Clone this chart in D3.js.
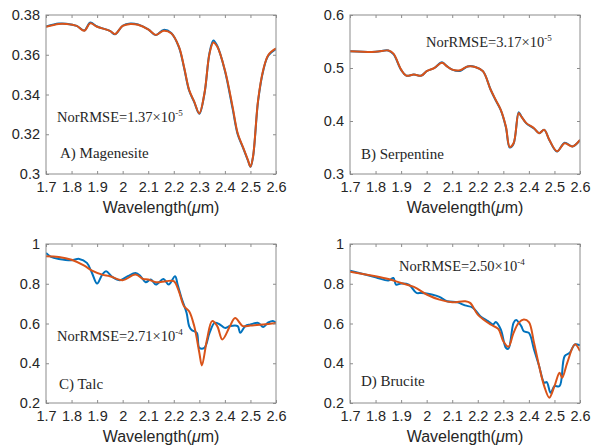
<!DOCTYPE html>
<html><head><meta charset="utf-8">
<script src="https://cdn.jsdelivr.net/npm/d3@7"></script>
<style>body{margin:0;background:#fff}svg{display:block}</style>
</head><body>
<svg id="c" width="592" height="446"></svg>
<script>
// ---------- data ----------
const xTicks = [1.7,1.8,1.9,2.0,2.1,2.2,2.3,2.4,2.5,2.6];

// A) Magenesite
const xA_meas = [1.70,1.75,1.78,1.82,1.85,1.873,1.90,1.95,1.97,2.00,2.03,2.06,2.10,2.13,2.16,2.19,2.22,2.24,2.26,2.28,2.30,2.32,2.34,2.355,2.37,2.40,2.43,2.45,2.47,2.49,2.50,2.51,2.53,2.55,2.57,2.60];
const yA_meas = [0.3742,0.3757,0.3756,0.3745,0.3722,0.3762,0.3742,0.3720,0.3703,0.3746,0.3757,0.3752,0.3728,0.3699,0.3725,0.3709,0.3638,0.3536,0.3420,0.3362,0.3303,0.3404,0.3610,0.3672,0.3645,0.3520,0.3330,0.3200,0.3135,0.3068,0.3036,0.3085,0.3368,0.3520,0.3596,0.3628];
const xA_rec = xA_meas;
const yA_rec = [0.3741,0.3755,0.3755,0.3745,0.3721,0.3758,0.3741,0.3720,0.3704,0.3745,0.3755,0.3751,0.3728,0.3700,0.3721,0.3708,0.3641,0.3540,0.3423,0.3364,0.3305,0.3406,0.3607,0.3662,0.3641,0.3523,0.3339,0.3205,0.3138,0.3071,0.3037,0.3087,0.3372,0.3523,0.3599,0.3632];

// B) Serpentine
const xB_meas = [1.70,1.80,1.85,1.87,1.90,1.92,1.95,1.98,2.00,2.03,2.06,2.08,2.10,2.13,2.16,2.19,2.22,2.25,2.27,2.29,2.31,2.325,2.34,2.36,2.37,2.39,2.42,2.44,2.46,2.48,2.51,2.54,2.57,2.60];
const yB_meas = [0.5318,0.5305,0.5330,0.5260,0.4965,0.4857,0.4876,0.4857,0.4940,0.5000,0.5110,0.5030,0.4970,0.4945,0.5030,0.5020,0.4940,0.4594,0.4390,0.4205,0.3880,0.3500,0.3570,0.4165,0.4090,0.3955,0.3860,0.3770,0.3833,0.3640,0.3423,0.3590,0.3520,0.3640];
const xB_rec = xB_meas;
const yB_rec = [0.5318,0.5305,0.5330,0.5270,0.4970,0.4857,0.4876,0.4857,0.4940,0.5000,0.5097,0.5030,0.4970,0.4958,0.5030,0.5020,0.4940,0.4594,0.4400,0.4212,0.3896,0.3510,0.3580,0.4149,0.4086,0.3960,0.3865,0.3770,0.3833,0.3644,0.3430,0.3580,0.3520,0.3644];

// C) Talc
const xC_meas = [1.70,1.72,1.75,1.80,1.83,1.86,1.88,1.90,1.92,1.935,1.96,1.99,2.02,2.05,2.07,2.09,2.11,2.13,2.16,2.18,2.205,2.215,2.23,2.25,2.26,2.27,2.29,2.30,2.32,2.34,2.36,2.38,2.40,2.42,2.45,2.46,2.48,2.50,2.53,2.55,2.57,2.59,2.60];
const yC_meas = [0.955,0.935,0.925,0.918,0.925,0.905,0.854,0.801,0.846,0.863,0.834,0.818,0.838,0.854,0.838,0.808,0.821,0.796,0.824,0.796,0.838,0.796,0.729,0.654,0.587,0.567,0.553,0.478,0.478,0.553,0.603,0.595,0.578,0.587,0.587,0.553,0.587,0.595,0.603,0.583,0.605,0.612,0.603];
const xC_rec = [1.70,1.75,1.80,1.85,1.88,1.92,1.95,2.00,2.05,2.08,2.10,2.13,2.17,2.20,2.22,2.24,2.26,2.28,2.30,2.31,2.33,2.35,2.37,2.39,2.42,2.44,2.47,2.50,2.55,2.60];
const yC_rec = [0.938,0.935,0.921,0.891,0.866,0.846,0.838,0.818,0.846,0.824,0.821,0.808,0.813,0.813,0.762,0.687,0.662,0.587,0.453,0.389,0.520,0.612,0.587,0.520,0.587,0.628,0.587,0.590,0.595,0.603];

// D) Brucite
const xD_meas = [1.70,1.80,1.85,1.87,1.88,1.90,1.93,1.96,1.98,2.02,2.05,2.08,2.12,2.15,2.18,2.21,2.24,2.26,2.27,2.29,2.31,2.32,2.34,2.35,2.37,2.38,2.40,2.42,2.44,2.46,2.47,2.485,2.50,2.52,2.54,2.56,2.58,2.60];
const yD_meas = [0.866,0.833,0.816,0.829,0.796,0.801,0.796,0.754,0.754,0.746,0.734,0.712,0.707,0.691,0.680,0.637,0.612,0.595,0.607,0.570,0.478,0.473,0.603,0.617,0.587,0.561,0.553,0.470,0.386,0.302,0.305,0.251,0.285,0.285,0.436,0.453,0.495,0.490];
const xD_rec = [1.70,1.80,1.85,1.90,1.95,2.00,2.05,2.10,2.15,2.17,2.20,2.25,2.28,2.30,2.32,2.34,2.36,2.38,2.40,2.42,2.44,2.46,2.48,2.50,2.52,2.53,2.55,2.58,2.60];
const yD_rec = [0.861,0.838,0.824,0.804,0.784,0.746,0.720,0.707,0.712,0.704,0.645,0.595,0.573,0.511,0.483,0.553,0.603,0.620,0.607,0.503,0.386,0.285,0.227,0.285,0.352,0.327,0.402,0.495,0.461];

const panels = [
  {x0:46, y0:15, dom:[0.3,0.38], yTicks:[0.3,0.32,0.34,0.36,0.38], meas:[xA_meas,yA_meas], rec:[xA_rec,yA_rec],
   label:"A) Magenesite", lab:[60,158], rmse:["NorRMSE=1.37×10","-5"], rm:[57,122]},
  {x0:350, y0:15, dom:[0.3,0.6], yTicks:[0.3,0.4,0.5,0.6], meas:[xB_meas,yB_meas], rec:[xB_rec,yB_rec],
   label:"B) Serpentine", lab:[361,159], rmse:["NorRMSE=3.17×10","-5"], rm:[426,47]},
  {x0:46, y0:244, dom:[0.2,1], yTicks:[0.2,0.4,0.6,0.8,1], meas:[xC_meas,yC_meas], rec:[xC_rec,yC_rec],
   label:"C) Talc", lab:[59,389], rmse:["NorRMSE=2.71×10","-4"], rm:[57,341]},
  {x0:350, y0:244, dom:[0.2,1], yTicks:[0.2,0.4,0.6,0.8,1], meas:[xD_meas,yD_meas], rec:[xD_rec,yD_rec],
   label:"D) Brucite", lab:[361,386], rmse:["NorRMSE=2.50×10","-4"], rm:[399,271]}
];

const W = 230, H = 159;
const svg = d3.select("#c");
const fmt = v => String(+v.toFixed(2));

panels.forEach(p => {
  const g = svg.append("g").attr("transform", `translate(${p.x0},${p.y0})`);
  const x = d3.scaleLinear().domain([1.7,2.6]).range([0,W]);
  const y = d3.scaleLinear().domain(p.dom).range([H,0]);

  const line = d3.line().x(d=>x(d[0])).y(d=>y(d[1])).curve(d3.curveCatmullRom.alpha(0.5));
  const pts = arr => arr[0].map((v,i)=>[v,arr[1][i]]);

  const clip = "clip"+p.x0+"_"+p.y0;
  g.append("clipPath").attr("id",clip).append("rect").attr("width",W).attr("height",H);
  const plot = g.append("g").attr("clip-path",`url(#${clip})`);
  plot.append("path").datum(pts(p.meas)).attr("d",line).attr("fill","none")
    .attr("stroke","#0072BD").attr("stroke-width",2).attr("stroke-linejoin","round");
  plot.append("path").datum(pts(p.rec)).attr("d",line).attr("fill","none")
    .attr("stroke","#D95319").attr("stroke-width",2).attr("stroke-linejoin","round");

  const axStyle = sel => {
    sel.select(".domain").remove();
    sel.selectAll(".tick line").attr("stroke","#8c8c8c");
    sel.selectAll(".tick text").attr("fill","#262626").style("font-family","'Liberation Sans', Arial, sans-serif").style("font-size","14.5px");
  };
  g.append("g").attr("transform",`translate(0,${H})`)
    .call(d3.axisBottom(x).tickValues(xTicks).tickSize(-3).tickPadding(8).tickFormat(fmt)).call(axStyle);
  g.append("g").call(d3.axisTop(x).tickValues(xTicks).tickSize(-3).tickFormat("")).call(axStyle);
  g.append("g").call(d3.axisLeft(y).tickValues(p.yTicks).tickSize(-3).tickPadding(6).tickFormat(fmt)).call(axStyle);
  g.append("g").attr("transform",`translate(${W},0)`)
    .call(d3.axisRight(y).tickValues(p.yTicks).tickSize(-3).tickFormat("")).call(axStyle);

  g.append("rect").attr("width",W).attr("height",H).attr("fill","none").attr("stroke","#8c8c8c").attr("stroke-width",1);

  const xl = g.append("text").attr("x",W/2).attr("y",H+39).attr("text-anchor","middle")
    .attr("fill","#262626").style("font-family","'Liberation Sans', Arial, sans-serif").style("font-size","16px");
  xl.append("tspan").text("Wavelength(");
  xl.append("tspan").style("font-style","italic").text("μ");
  xl.append("tspan").text("m)");

  const serif = "'Liberation Serif','Times New Roman',serif";
  const t = svg.append("text").attr("x",p.rm[0]).attr("y",p.rm[1]).attr("fill","#262626")
    .style("font-family",serif).style("font-size","14.5px");
  t.append("tspan").text(p.rmse[0]);
  t.append("tspan").attr("dy",-6).style("font-size","9px").text(p.rmse[1]);
  svg.append("text").attr("x",p.lab[0]).attr("y",p.lab[1]).attr("fill","#262626")
    .style("font-family",serif).style("font-size","15px").text(p.label);
});
</script>
</body></html>
